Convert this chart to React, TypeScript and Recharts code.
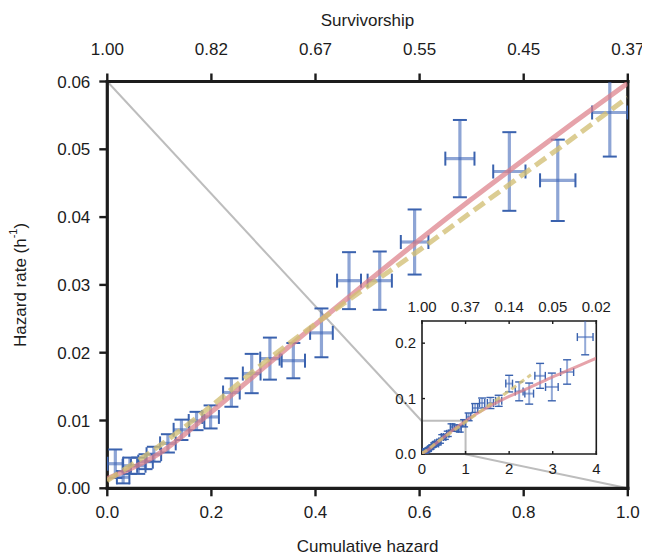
import React from 'react';
import { ComposedChart, Scatter, Line, XAxis, YAxis, ErrorBar, ReferenceArea } from 'recharts';

const FONT = '"Liberation Sans", Arial, Helvetica, sans-serif';
const INK = '#1c1c1c';

// ---- data ----
const hazardX = [0.016, 0.031, 0.044, 0.060, 0.074, 0.090, 0.117, 0.143, 0.172, 0.199, 0.239, 0.278, 0.313, 0.358, 0.412, 0.465, 0.524, 0.591, 0.678, 0.773, 0.866, 0.966,
  1.07, 1.22, 1.38, 1.57, 1.76, 2.00, 2.23, 2.46, 2.71, 2.98, 3.33, 3.745];
const hazardY = [0.0037, 0.0017, 0.0034, 0.0034, 0.0040, 0.0051, 0.0067, 0.0087, 0.0100, 0.0106, 0.0142, 0.0170, 0.0192, 0.0189, 0.0230, 0.0307, 0.0307, 0.0364, 0.0487, 0.0468, 0.0455, 0.0555,
  0.067, 0.083, 0.092, 0.092, 0.096, 0.127, 0.113, 0.109, 0.141, 0.121, 0.148, 0.211];
const hazardXErr = [0.015, 0.012, 0.014, 0.014, 0.014, 0.014, 0.015, 0.015, 0.015, 0.016, 0.016, 0.017, 0.0186, 0.0224, 0.0218, 0.023, 0.0233, 0.0265, 0.028, 0.031, 0.034, 0.034,
  0.05, 0.06, 0.06, 0.07, 0.07, 0.077, 0.09, 0.10, 0.12, 0.145, 0.15, 0.18];
const hazardYErr = [0.0021, 0.0009, 0.0012, 0.0012, 0.0011, 0.0011, 0.00135, 0.0015, 0.00135, 0.0017, 0.0021, 0.0029, 0.0031, 0.0026, 0.0036, 0.0042, 0.0043, 0.0048, 0.0057, 0.0058, 0.006, 0.0065,
  0.007, 0.008, 0.009, 0.010, 0.010, 0.015, 0.017, 0.019, 0.0225, 0.025, 0.022, 0.032];

const fitX = [0, 0.1, 0.2, 0.3, 0.4, 0.5, 0.6, 0.7, 0.8, 0.9, 1.0, 1.5, 2.0, 2.5, 3.0, 3.5, 4.0];
const redFit = [0.0015, 0.0052, 0.0113, 0.0178, 0.0242, 0.0305, 0.0367, 0.0427, 0.0485, 0.0542, 0.0598, 0.084, 0.104, 0.121, 0.139, 0.156, 0.173];
const yellowFit = [0.0012, 0.0063, 0.0122, 0.0185, 0.0243, 0.0298, 0.0352, 0.0408, 0.0464, 0.052, 0.0577, 0.086, 0.114, 0.143];

const mainXTicks = [0, 0.2, 0.4, 0.6, 0.8, 1.0];
const mainXTickLabels = ['0.0', '0.2', '0.4', '0.6', '0.8', '1.0'];
const survivorshipLabels = ['1.00', '0.82', '0.67', '0.55', '0.45', '0.37'];
const mainYTicks = [0, 0.01, 0.02, 0.03, 0.04, 0.05, 0.06];
const mainYTickLabels = ['0.00', '0.01', '0.02', '0.03', '0.04', '0.05', '0.06'];

const insetXTicks = [0, 1, 2, 3, 4];
const insetXTickLabels = ['0', '1', '2', '3', '4'];
const insetSurvLabels = ['1.00', '0.37', '0.14', '0.05', '0.02'];
const insetYTicks = [0, 0.1, 0.2];
const insetYTickLabels = ['0.0', '0.1', '0.2'];

// ---- derived tables ----
const points = hazardX.map((x, i) => ({ x, y: hazardY[i], xe: hazardXErr[i], ye: hazardYErr[i] }));
const mainPoints = points.filter((p) => p.x <= 1);
const redAll = fitX.map((x, i) => ({ x, y: redFit[i] }));
const yellowAll = yellowFit.map((y, i) => ({ x: fitX[i], y }));
const redMain = redAll.filter((p) => p.x <= 1);
const yellowMain = yellowAll.filter((p) => p.x <= 1);

// ---- layout ----
const W = 642;
const H = 549;
const MAIN = { left: 99.3, right: 619.8, top: 73.5, bottom: 480.3 };
const MAIN_X = [0, 1];
const MAIN_Y = [0, 0.06];
const INSET = { left: 413.7, right: 588, top: 313.3, bottom: 446.3 };
const INSET_X = [0, 4];
const INSET_Y = [0, 0.24];
const INSET_YAXIS_W = 41;
const INSET_TOP_H = 30;
const INSET_BOTTOM_H = 30;
const INSET_RIGHT_W = 24;

const insetToPx = (x: number, y: number) => ({
  px: INSET.left + ((x - INSET_X[0]) / (INSET_X[1] - INSET_X[0])) * (INSET.right - INSET.left),
  py: INSET.bottom - ((y - INSET_Y[0]) / (INSET_Y[1] - INSET_Y[0])) * (INSET.bottom - INSET.top),
});
const pxToMain = (px: number, py: number) => ({
  x: MAIN_X[0] + ((px - MAIN.left) / (MAIN.right - MAIN.left)) * (MAIN_X[1] - MAIN_X[0]),
  y: MAIN_Y[0] + ((MAIN.bottom - py) / (MAIN.bottom - MAIN.top)) * (MAIN_Y[1] - MAIN_Y[0]),
});
const zoomBox = { x1: 0, x2: 1, y1: 0, y2: 0.06 };
const c1 = insetToPx(zoomBox.x1, zoomBox.y2);
const c2 = insetToPx(zoomBox.x2, zoomBox.y1);
const connectorA = [{ x: zoomBox.x1, y: zoomBox.y2 }, pxToMain(c1.px, c1.py)];
const connectorB = [pxToMain(c2.px, c2.py), { x: zoomBox.x2, y: zoomBox.y1 }];

const css = `
.hz-main .recharts-errorBar line:nth-of-type(2) { stroke: rgba(60,100,182,0.58); stroke-width: 3.2px; }
.hz-inset .recharts-errorBar line:nth-of-type(2) { stroke: rgba(60,100,182,0.55); stroke-width: 2px; }
`;

const mainAxisLine = { stroke: INK, strokeWidth: 3.2, strokeLinecap: 'square' as const };
const mainTickLine = { stroke: INK, strokeWidth: 2.4 };
const mainTick = { fill: INK, fontSize: 17, fontFamily: FONT };

const insetAxisLine = { stroke: INK, strokeWidth: 1.6, strokeLinecap: 'square' as const };
const insetTickLine = { stroke: INK, strokeWidth: 1.4 };
const insetTick = { fill: INK, fontSize: 15, fontFamily: FONT };

const noShape = (p: any) => <circle cx={p.cx} cy={p.cy} r={0} fill="none" />;

const lbl = (arr: string[], ticks: number[], v: number) => {
  const k = ticks.indexOf(v);
  return k >= 0 ? arr[k] : String(v);
};

const YTitle = (props: any) => {
  const vb = props.viewBox || { x: 0, y: MAIN.top, width: MAIN.left, height: MAIN.bottom - MAIN.top };
  const cx = 12;
  const cy = vb.y + vb.height / 2;
  return (
    <text x={cx} y={cy} transform={`rotate(-90 ${cx} ${cy})`} textAnchor="middle" dominantBaseline="central"
      fontSize={17} fontFamily={FONT} fill={INK}>
      <tspan>Hazard rate (h</tspan>
      <tspan fontSize={11} dy={-7}>-1</tspan>
      <tspan dy={7}>)</tspan>
    </text>
  );
};

const TopTitle = (props: any) => {
  const vb = props.viewBox || { x: MAIN.left, y: 0, width: MAIN.right - MAIN.left, height: MAIN.top };
  return (
    <text x={vb.x + vb.width / 2} y={18} textAnchor="middle" fontSize={17} fontFamily={FONT} fill={INK}>
      Survivorship
    </text>
  );
};

const BottomTitle = (props: any) => {
  const vb = props.viewBox || { x: MAIN.left, y: MAIN.bottom, width: MAIN.right - MAIN.left, height: H - MAIN.bottom };
  return (
    <text x={vb.x + vb.width / 2} y={544} textAnchor="middle" fontSize={17} fontFamily={FONT} fill={INK}>
      Cumulative hazard
    </text>
  );
};

// data layer drawn in a chart that exactly covers a plot box, clipped to it
function DataLayer(props: {
  box: { left: number; right: number; top: number; bottom: number };
  xDomain: number[];
  yDomain: number[];
  pts: any[];
  red: any[];
  yellow: any[];
  cap: number;
  capStroke: number;
  fitWidth: number;
  dash: string;
}) {
  const { box } = props;
  const w = box.right - box.left;
  const h = box.bottom - box.top;
  return (
    <div style={{ position: 'absolute', left: box.left, top: box.top, width: w, height: h, overflow: 'hidden' }}>
      <ComposedChart width={w} height={h} margin={{ top: 0, right: 0, bottom: 0, left: 0 }}>
        <XAxis hide dataKey="x" type="number" domain={props.xDomain} allowDataOverflow />
        <YAxis hide type="number" domain={props.yDomain} allowDataOverflow />
        <Scatter data={props.pts} dataKey="y" shape={noShape} isAnimationActive={false}>
          <ErrorBar dataKey="ye" direction="y" width={props.cap} stroke="#3a62ae" strokeWidth={props.capStroke} isAnimationActive={false} />
          <ErrorBar dataKey="xe" direction="x" width={props.cap} stroke="#3a62ae" strokeWidth={props.capStroke} isAnimationActive={false} />
        </Scatter>
        <Line data={props.red} dataKey="y" stroke="#dc7f89" strokeOpacity={0.72} strokeWidth={props.fitWidth} dot={false}
          activeDot={false} isAnimationActive={false} type="monotone" />
        <Line data={props.yellow} dataKey="y" stroke="#d2bf75" strokeOpacity={0.78} strokeWidth={props.fitWidth}
          strokeDasharray={props.dash} dot={false} activeDot={false} isAnimationActive={false} type="monotone" />
      </ComposedChart>
    </div>
  );
}

export default function App() {
  const insetW = INSET_YAXIS_W + (INSET.right - INSET.left) + INSET_RIGHT_W;
  const insetH = INSET_TOP_H + (INSET.bottom - INSET.top) + INSET_BOTTOM_H;
  return (
    <div style={{ position: 'relative', width: W, height: H, fontFamily: FONT }}>
      <style>{css}</style>
      <div className="hz-main">
        <div style={{ position: 'absolute', left: 0, top: 0 }}>
          <ComposedChart width={W} height={H} margin={{ top: 0, right: 0, bottom: 0, left: 0 }}>
            <XAxis dataKey="x" type="number" domain={MAIN_X} ticks={mainXTicks} allowDataOverflow
              height={H - MAIN.bottom} axisLine={mainAxisLine} tickLine={mainTickLine} tick={mainTick}
              tickSize={8} tickMargin={10} interval={0}
              tickFormatter={(v: number) => lbl(mainXTickLabels, mainXTicks, v)}
              label={BottomTitle} />
            <XAxis xAxisId="top" orientation="top" dataKey="x" type="number" domain={MAIN_X} ticks={mainXTicks} allowDataOverflow
              height={MAIN.top} axisLine={mainAxisLine} tickLine={mainTickLine} tick={mainTick}
              tickSize={8} tickMargin={19} interval={0}
              tickFormatter={(v: number) => lbl(survivorshipLabels, mainXTicks, v)}
              label={TopTitle} />
            <YAxis type="number" domain={MAIN_Y} ticks={mainYTicks} allowDataOverflow width={MAIN.left}
              axisLine={mainAxisLine} tickLine={mainTickLine} tick={mainTick} tickSize={8} tickMargin={9} interval={0}
              tickFormatter={(v: number) => lbl(mainYTickLabels, mainYTicks, v)}
              label={YTitle} />
            <YAxis yAxisId="right" orientation="right" type="number" domain={MAIN_Y} allowDataOverflow
              width={W - MAIN.right} axisLine={mainAxisLine} tick={false} tickLine={false} />
            <Line data={connectorA} dataKey="y" stroke="#bdbdbd" strokeWidth={2} dot={false} activeDot={false}
              isAnimationActive={false} type="linear" />
            <Line data={connectorB} dataKey="y" stroke="#bdbdbd" strokeWidth={2} dot={false} activeDot={false}
              isAnimationActive={false} type="linear" />
          </ComposedChart>
        </div>
        <DataLayer box={MAIN} xDomain={MAIN_X} yDomain={MAIN_Y} pts={mainPoints} red={redMain} yellow={yellowMain}
          cap={7} capStroke={2} fitWidth={5} dash="13 6" />
      </div>
      <div className="hz-inset">
        <div style={{ position: 'absolute', left: INSET.left - INSET_YAXIS_W, top: INSET.top - INSET_TOP_H }}>
          <ComposedChart width={insetW} height={insetH} margin={{ top: 0, right: 0, bottom: 0, left: 0 }}>
            <XAxis dataKey="x" type="number" domain={INSET_X} ticks={insetXTicks} allowDataOverflow
              height={INSET_BOTTOM_H} axisLine={insetAxisLine} tickLine={insetTickLine} tick={insetTick}
              tickSize={-3} tickMargin={12} interval={0}
              tickFormatter={(v: number) => lbl(insetXTickLabels, insetXTicks, v)} />
            <XAxis xAxisId="top" orientation="top" dataKey="x" type="number" domain={INSET_X} ticks={insetXTicks} allowDataOverflow
              height={INSET_TOP_H} axisLine={insetAxisLine} tickLine={insetTickLine} tick={insetTick}
              tickSize={-3} tickMargin={12} interval={0}
              tickFormatter={(v: number) => lbl(insetSurvLabels, insetXTicks, v)} />
            <YAxis type="number" domain={INSET_Y} ticks={insetYTicks} allowDataOverflow width={INSET_YAXIS_W}
              axisLine={insetAxisLine} tickLine={insetTickLine} tick={insetTick} tickSize={-3} tickMargin={9} interval={0}
              tickFormatter={(v: number) => lbl(insetYTickLabels, insetYTicks, v)} />
            <YAxis yAxisId="right" orientation="right" type="number" domain={INSET_Y} allowDataOverflow
              width={INSET_RIGHT_W} axisLine={insetAxisLine} tick={false} tickLine={false} />
            <ReferenceArea x1={zoomBox.x1} x2={zoomBox.x2} y1={zoomBox.y1} y2={zoomBox.y2}
              fill="none" fillOpacity={0} stroke="#bdbdbd" strokeWidth={2} />
          </ComposedChart>
        </div>
        <DataLayer box={INSET} xDomain={INSET_X} yDomain={INSET_Y} pts={points} red={redAll} yellow={yellowAll}
          cap={4} capStroke={1.4} fitWidth={3} dash="6 4" />
      </div>
    </div>
  );
}
